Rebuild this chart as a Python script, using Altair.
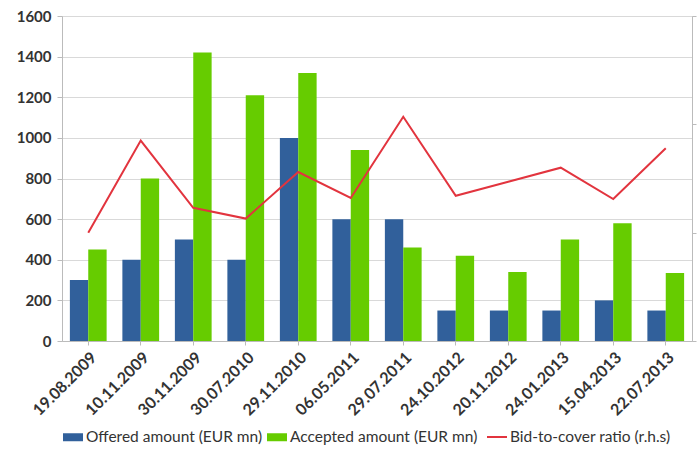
import altair as alt
import pandas as pd

dates = ["19.08.2009", "10.11.2009", "30.11.2009", "30.07.2010", "29.11.2010",
         "06.05.2011", "29.07.2011", "24.10.2012", "20.11.2012", "24.01.2013",
         "15.04.2013", "22.07.2013"]
offered = [300, 400, 500, 400, 1000, 600, 600, 150, 150, 150, 200, 150]
accepted = [450, 800, 1420, 1210, 1320, 940, 460, 420, 340, 500, 580, 335]
ratio = [1.00, 1.85, 1.23, 1.13, 1.56, 1.32, 2.07, 1.34, 1.47, 1.60, 1.31, 1.78]

s_off = "Offered amount (EUR mn)"
s_acc = "Accepted amount (EUR mn)"
s_rat = "Bid-to-cover ratio (r.h.s)"
bar_names = [s_off, s_acc]
bar_colors = ["#31609B", "#66CC00"]
line_color = "#E2343E"

bars_df = pd.DataFrame({
    "date": dates * 2,
    "series": [s_off] * len(dates) + [s_acc] * len(dates),
    "value": offered + accepted,
})
line_df = pd.DataFrame({"date": dates, "series": [s_rat] * len(dates), "ratio": ratio})

FONT = "Lato"
TXT = "#333333"
legend_common = dict(orient="bottom", title=None, direction="horizontal",
                     labelFont=FONT, labelFontSize=15.5, labelColor=TXT,
                     columnPadding=3, labelOffset=2, padding=0, offset=7, labelLimit=300)

x = alt.X(
    "date:N", sort=dates, title=None,
    scale=alt.Scale(paddingInner=0.3, paddingOuter=0.15),
    axis=alt.Axis(labelAngle=-45, labelFont=FONT, labelFontSize=16, labelFontWeight="bold",
                  labelColor=TXT, domainColor="#BBBBBB", tickColor="#BBBBBB",
                  labelPadding=4, ticks=True, tickSize=4),
)

bars = alt.Chart(bars_df).mark_bar().encode(
    x=x,
    xOffset=alt.XOffset("series:N", sort=bar_names, scale=alt.Scale(paddingInner=0)),
    y=alt.Y("value:Q", title=None, scale=alt.Scale(domain=[0, 1600]),
            axis=alt.Axis(values=list(range(0, 1601, 200)), format="d", labelFont=FONT,
                          labelFontSize=15, labelFontWeight="bold", labelColor=TXT,
                          gridColor="#D9D9D9", domainColor="#BBBBBB", tickColor="#BBBBBB",
                          tickSize=5, labelPadding=6)),
    color=alt.Color("series:N", scale=alt.Scale(domain=bar_names, range=bar_colors),
                    legend=alt.Legend(symbolType="M-1,-0.4H1V0.4H-1Z", symbolSize=400,
                                      **legend_common)),
)

line = alt.Chart(line_df).mark_line(strokeWidth=2).encode(
    x=alt.X("date:N", sort=dates),
    y=alt.Y("ratio:Q", title=None, scale=alt.Scale(domain=[0, 3]),
            axis=alt.Axis(orient="right", values=[0, 1, 2, 3], labels=False, grid=False,
                          domainColor="#BBBBBB", tickColor="#BBBBBB", tickSize=4)),
    color=alt.Color("series:N", scale=alt.Scale(domain=[s_rat], range=[line_color]),
                    legend=alt.Legend(symbolType="stroke", symbolSize=400, symbolStrokeWidth=2,
                                      **legend_common)),
)

chart = alt.layer(bars, line).resolve_scale(y="independent", color="independent").properties(
    width=697, height=450,
    autosize=alt.AutoSizeParams(type="fit", contains="padding"),
    padding={"left": 16, "top": 9, "right": 0, "bottom": 4},
).configure_view(stroke=None).configure(background="white")

chart.save("out.html", embed_options={"renderer": "svg", "actions": False})
